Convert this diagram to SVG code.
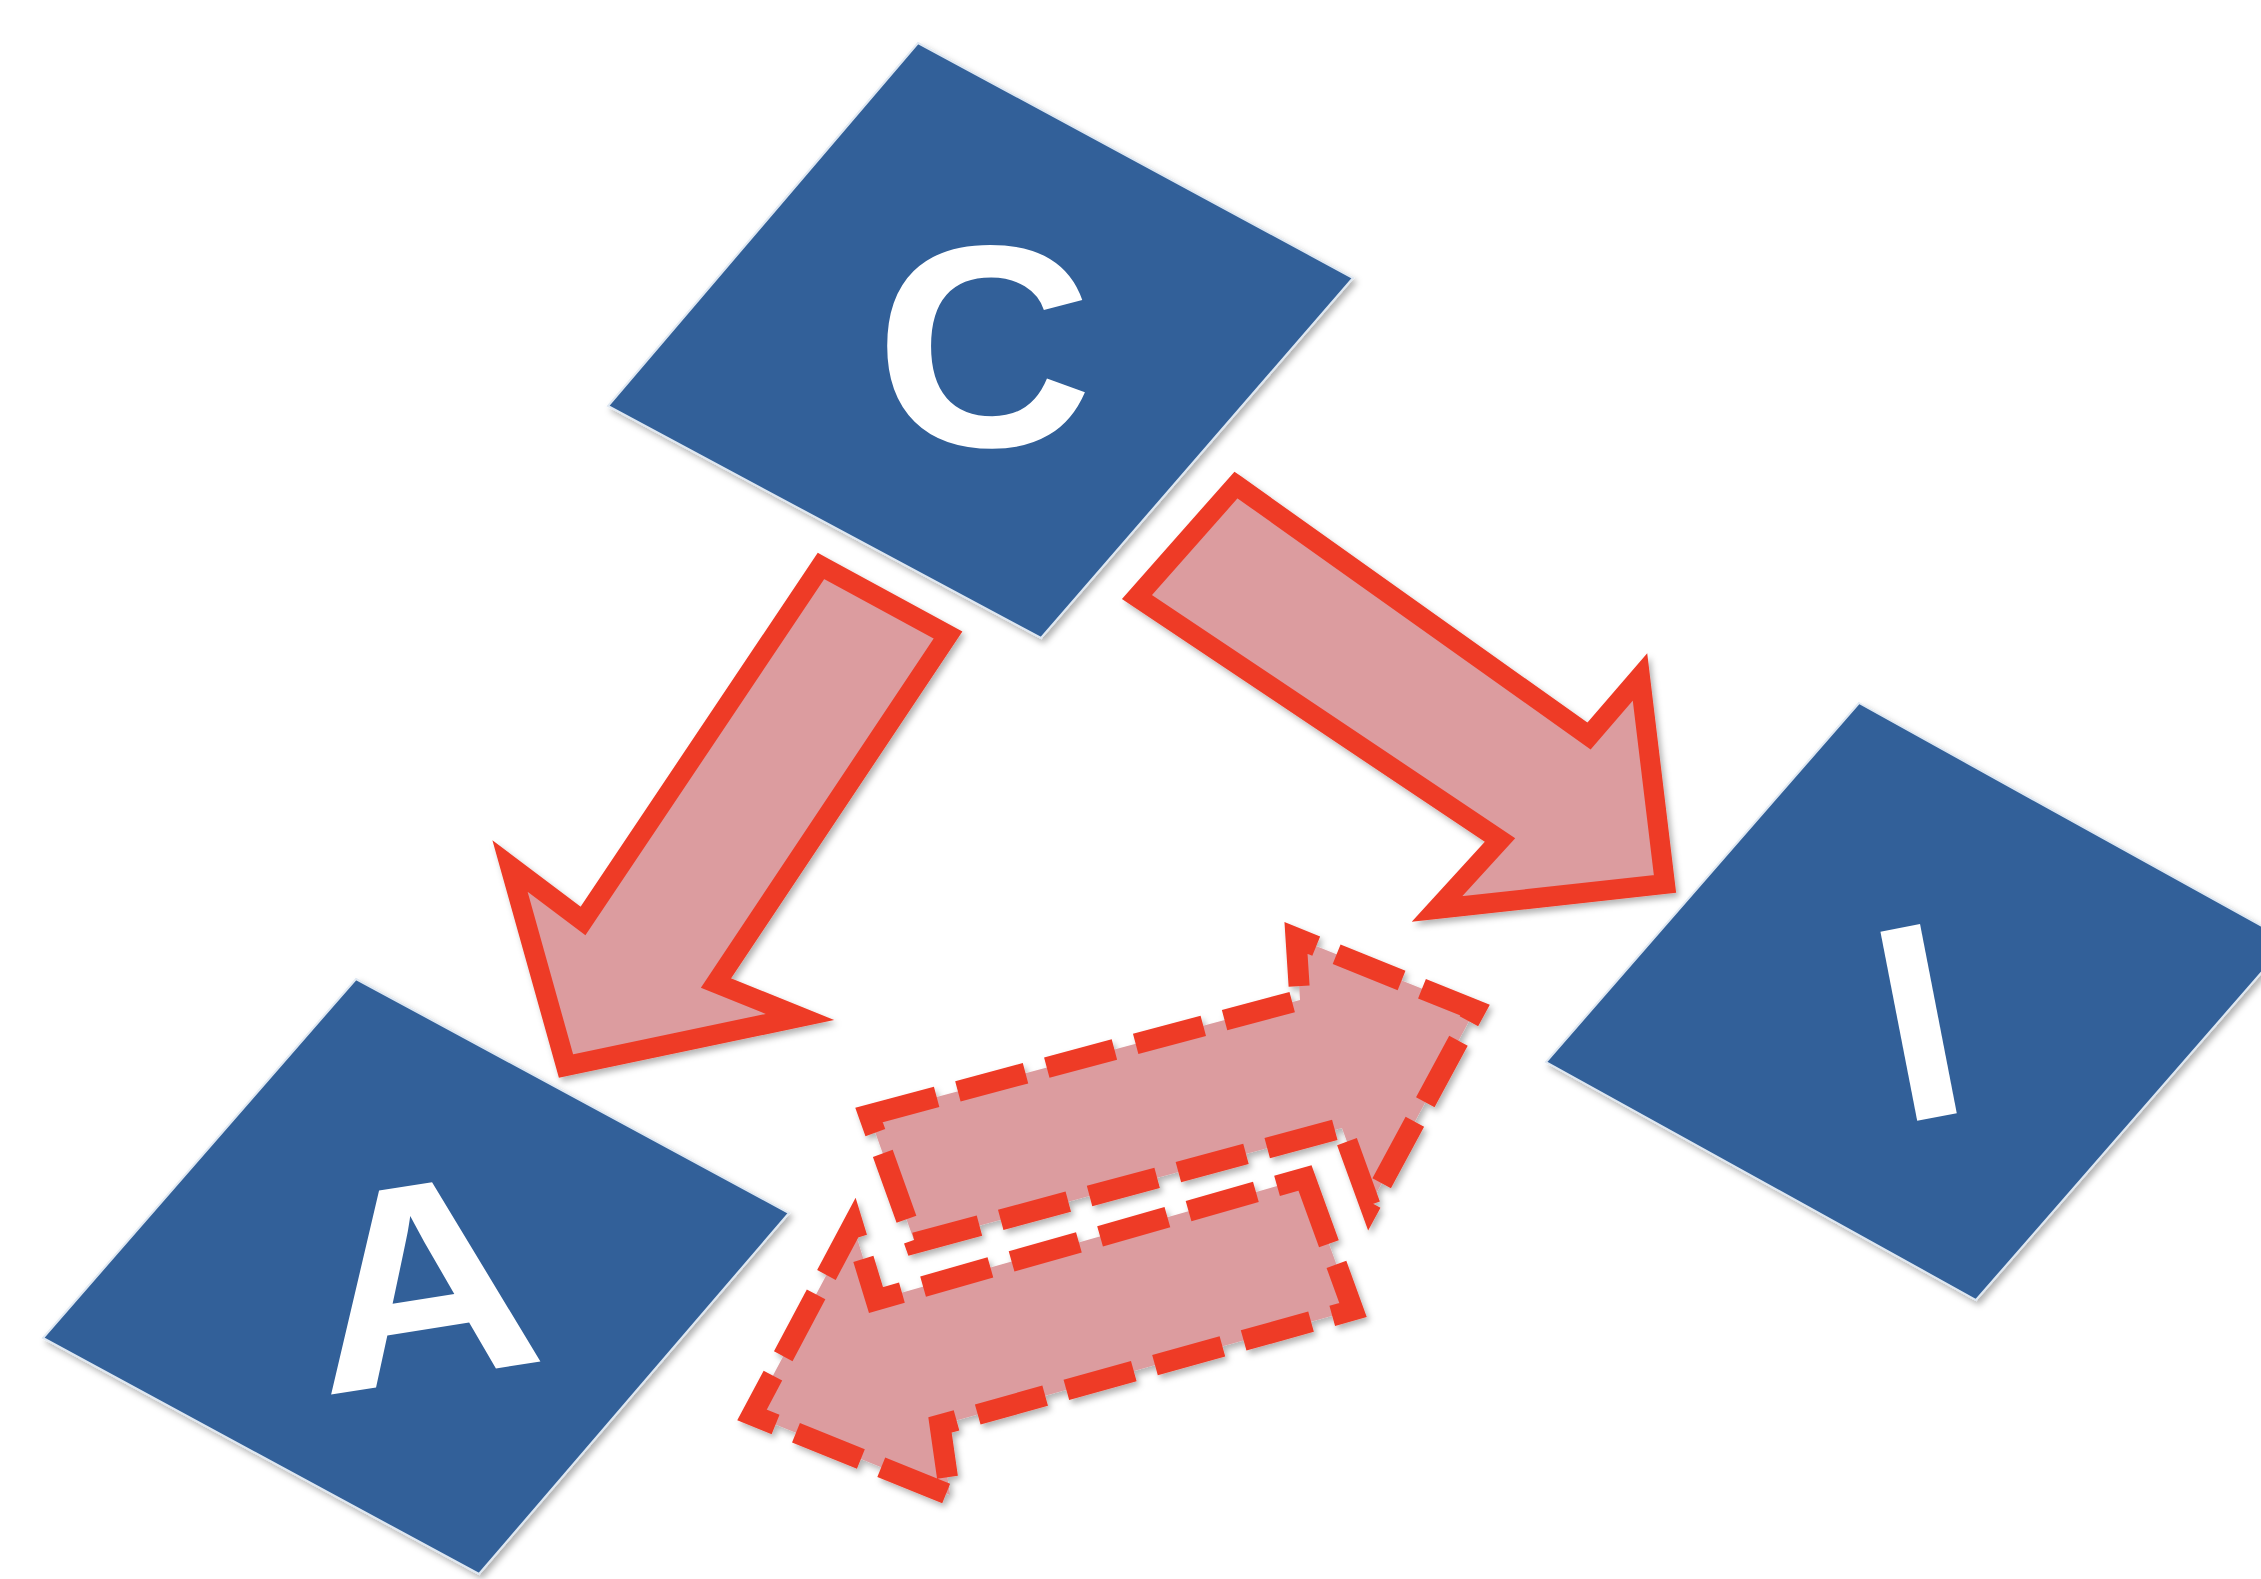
<svg xmlns="http://www.w3.org/2000/svg" width="2261" height="1579" viewBox="0 0 2261 1579">
<defs>
<filter id="sh" x="-10%" y="-10%" width="120%" height="120%">
<feDropShadow dx="3" dy="4" stdDeviation="3" flood-color="#000" flood-opacity="0.3"/>
</filter>
<style>
.sq{fill:#336199;stroke:#dfe8f2;stroke-width:2;filter:url(#sh)}
.lbl{fill:#ffffff;font-family:"Liberation Sans",Arial,sans-serif;font-weight:bold;text-anchor:middle}
.solid{fill:#dc9c9f;stroke:#ee3b27;stroke-width:20;stroke-linejoin:miter;stroke-miterlimit:10;filter:url(#sh)}
.dash{fill:#dc9c9f;stroke:#ee3b27;stroke-width:21;stroke-dasharray:70 22;stroke-linejoin:miter;stroke-miterlimit:10;filter:url(#sh)}
</style>
</defs>
<rect width="2261" height="1579" fill="#ffffff"/>
<g id="node-C">
<polygon class="sq" points="918,43 1353,278 1041,638 608,406"/>
<text class="lbl" font-size="288" transform="translate(984 446) scale(1.05 1)">C</text>
</g>
<g id="node-A">
<polygon class="sq" points="356,979 789,1213 479,1574 43,1338"/>
<text class="lbl" font-size="282" transform="rotate(-9 436 1378) translate(436 1378) scale(1.12 1)">A</text>
</g>
<g id="node-I">
<polygon class="sq" points="1859,703 2289,941 1976,1300 1546,1062"/>
<text class="lbl" x="1937" y="1117" font-size="280" transform="rotate(-11 1937 1117)">I</text>
</g>
<g id="connectors">
<polygon id="arrow-C-A" class="solid" points="821,566 948,635 716,983 800,1017 566,1066 510,866 583,921"/>
<polygon id="arrow-C-I" class="solid" points="1236,485 1589,736 1640,677 1665,884 1437,909 1500,840 1137,597"/>
<polygon id="arrow-A-I" class="dash" points="869,1115 1300,1000 1296,938 1475,1010 1370,1205 1342,1128 915,1243"/>
<polygon id="arrow-I-A" class="dash" points="1305,1178 1353,1310 940,1425 950,1495 752,1415 853,1225 876,1300"/>
</g>
</svg>
